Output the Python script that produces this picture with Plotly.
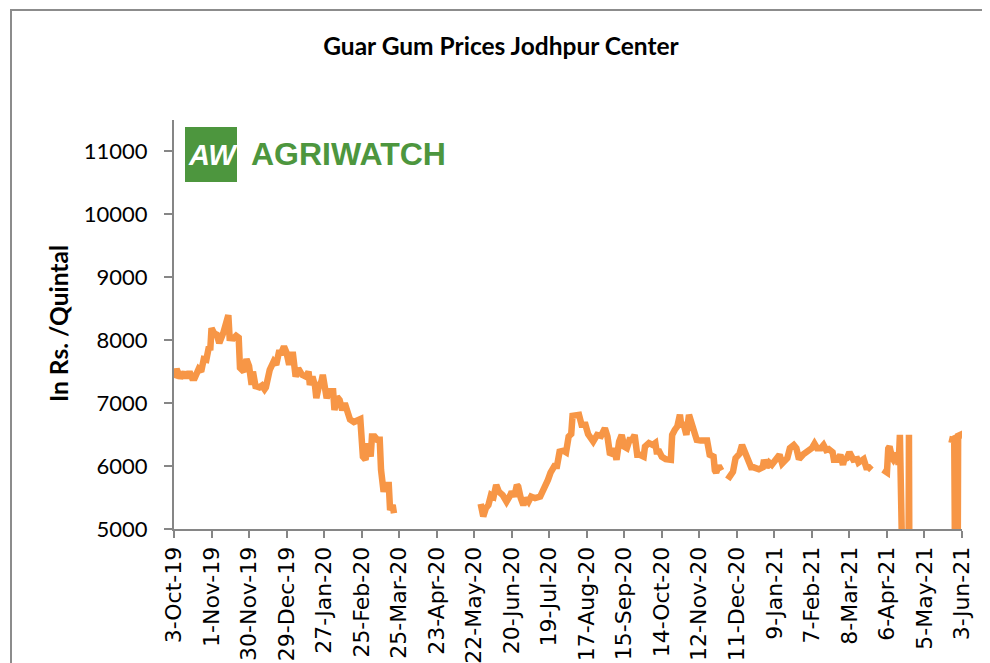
import plotly.graph_objects as go

# ---- data ----
dates = [
    "2019-10-03", "2019-10-05", "2019-10-08", "2019-10-11", "2019-10-13", "2019-10-15",
    "2019-10-17", "2019-10-19", "2019-10-22", "2019-10-24", "2019-10-26", "2019-10-28",
    "2019-10-30", "2019-10-31", "2019-11-01", "2019-11-03", "2019-11-05", "2019-11-07",
    "2019-11-10", "2019-11-12", "2019-11-14", "2019-11-15", "2019-11-18", "2019-11-20",
    "2019-11-22", "2019-11-23", "2019-11-26", "2019-11-28", "2019-11-30", "2019-12-02",
    "2019-12-03", "2019-12-05", "2019-12-08", "2019-12-10", "2019-12-12", "2019-12-13",
    "2019-12-15", "2019-12-16", "2019-12-19", "2019-12-21", "2019-12-23", "2019-12-25",
    "2019-12-27", "2019-12-29", "2019-12-31", "2020-01-01", "2020-01-03", "2020-01-05",
    "2020-01-07", "2020-01-10", "2020-01-13", "2020-01-15", "2020-01-16", "2020-01-18",
    "2020-01-20", "2020-01-21", "2020-01-23", "2020-01-25", "2020-01-26", "2020-01-28",
    "2020-01-29", "2020-01-31", "2020-02-03", "2020-02-04", "2020-02-06", "2020-02-08",
    "2020-02-10", "2020-02-12", "2020-02-14", "2020-02-16", "2020-02-19", "2020-02-24",
    "2020-02-26", "2020-02-28", "2020-03-01", "2020-03-03", "2020-03-04", "2020-03-06",
    "2020-03-08", "2020-03-10", "2020-03-11", "2020-03-13", "2020-03-14", "2020-03-17",
    "2020-03-18", "2020-03-20", "2020-03-21",
    "2020-04-20",
    "2020-05-27", "2020-05-29", "2020-05-31", "2020-06-02", "2020-06-04", "2020-06-06",
    "2020-06-08", "2020-06-10", "2020-06-13", "2020-06-16", "2020-06-19", "2020-06-20",
    "2020-06-22", "2020-06-24", "2020-06-25", "2020-06-27", "2020-06-29", "2020-07-01",
    "2020-07-03", "2020-07-05", "2020-07-08", "2020-07-12", "2020-07-14", "2020-07-15",
    "2020-07-18", "2020-07-20", "2020-07-23", "2020-07-25", "2020-07-27", "2020-07-30",
    "2020-08-01", "2020-08-03", "2020-08-05", "2020-08-06", "2020-08-08", "2020-08-11",
    "2020-08-13", "2020-08-16", "2020-08-18", "2020-08-20", "2020-08-22", "2020-08-25",
    "2020-08-28", "2020-08-31", "2020-09-02", "2020-09-04", "2020-09-06", "2020-09-07",
    "2020-09-09", "2020-09-11", "2020-09-13", "2020-09-15", "2020-09-17", "2020-09-19",
    "2020-09-21", "2020-09-23", "2020-09-25", "2020-09-27", "2020-09-30", "2020-10-01",
    "2020-10-04", "2020-10-07", "2020-10-09", "2020-10-10", "2020-10-12", "2020-10-14",
    "2020-10-17", "2020-10-21", "2020-10-22", "2020-10-24", "2020-10-26", "2020-10-28",
    "2020-10-29", "2020-10-31", "2020-11-02", "2020-11-04", "2020-11-06", "2020-11-08",
    "2020-11-10", "2020-11-13", "2020-11-18", "2020-11-20", "2020-11-23", "2020-11-24",
    "2020-11-25", "2020-11-27", "2020-11-29",
    "2020-12-01",
    "2020-12-04", "2020-12-06", "2020-12-08", "2020-12-10", "2020-12-13", "2020-12-15",
    "2020-12-18", "2020-12-20", "2020-12-22", "2020-12-24", "2020-12-28", "2020-12-31",
    "2021-01-01", "2021-01-03", "2021-01-05", "2021-01-07", "2021-01-10", "2021-01-13",
    "2021-01-15", "2021-01-18", "2021-01-19", "2021-01-21", "2021-01-24", "2021-01-26",
    "2021-01-28", "2021-01-31", "2021-02-02", "2021-02-05", "2021-02-07", "2021-02-09",
    "2021-02-11", "2021-02-14", "2021-02-16", "2021-02-18", "2021-02-20", "2021-02-23",
    "2021-02-24", "2021-02-27", "2021-03-01", "2021-03-03", "2021-03-04", "2021-03-06",
    "2021-03-08", "2021-03-11", "2021-03-14", "2021-03-15", "2021-03-19", "2021-03-21",
    "2021-03-23", "2021-03-25",
    "2021-03-30",
    "2021-04-03", "2021-04-06", "2021-04-07", "2021-04-08", "2021-04-10", "2021-04-11",
    "2021-04-14", "2021-04-15", "2021-04-16", "2021-04-17", "2021-04-22", "2021-04-23",
    "2021-04-24",
    "2021-05-10",
    "2021-05-24", "2021-05-26", "2021-05-28", "2021-05-29", "2021-05-30", "2021-05-31",
    "2021-06-02", "2021-06-03",
]

prices = [
    7400, 7540, 7400, 7490, 7400, 7500,
    7400, 7400, 7540, 7500, 7700, 7690,
    7900, 7840, 8190, 8110, 8090, 7955,
    8110, 8270, 8400, 8035, 8030, 8070,
    8040, 7560, 7500, 7700, 7590, 7290,
    7500, 7270, 7250, 7280, 7220, 7250,
    7500, 7530, 7660, 7610, 7800, 7800,
    7900, 7800, 7610, 7770, 7770, 7420,
    7550, 7450, 7420, 7500, 7290, 7420,
    7270, 7080, 7270, 7350, 7450, 7130,
    7080, 7190, 7190, 6890, 7100, 7050,
    6890, 7000, 6870, 6740, 6700, 6745,
    6150, 6100, 6360, 6150, 6470, 6470,
    6420, 6420, 5940, 5590, 5700, 5700,
    5300, 5380, 5250,
    None,
    5400, 5200, 5330, 5380, 5540, 5515,
    5700, 5595, 5540, 5435, 5540, 5595,
    5515, 5700, 5675, 5490, 5380, 5490,
    5435, 5515, 5490, 5515, 5595, 5620,
    5780, 5895, 6000, 6000, 6230, 6245,
    6220, 6470, 6510, 6800, 6815, 6815,
    6655, 6655, 6510, 6460, 6390, 6495,
    6480, 6600, 6470, 6180, 6215, 6285,
    6100, 6390, 6495, 6310, 6285, 6415,
    6415, 6495, 6180, 6180, 6150, 6310,
    6365, 6335, 6365, 6230, 6230, 6150,
    6110, 6100, 6495, 6575, 6630, 6815,
    6655, 6655, 6495, 6815, 6655, 6495,
    6415, 6405, 6405, 6180, 6150, 5930,
    5895, 6005, 5930,
    None,
    5790, 5860, 5910, 6125, 6195, 6335,
    6195, 6070, 5980, 5980, 5950, 5980,
    6100, 5980, 6055, 6020, 6100, 6180,
    6040, 6125, 6125, 6285, 6335, 6285,
    6110, 6180, 6205, 6270, 6285, 6355,
    6285, 6285, 6335, 6255, 6270, 6220,
    6100, 6100, 6180, 6020, 6110, 6125,
    6220, 6100, 6110, 6055, 6110, 5980,
    5980, 5940,
    None,
    5940, 5900, 6280, 6310, 6130, 6100,
    6200, 6020, 6496, 0, 0, 6496,
    0,
    None,
    6430, 6420, 6440, 0, 0, 6480,
    6500, 6440,
]

tick_dates = [
    "2019-10-03", "2019-11-01", "2019-11-30", "2019-12-29", "2020-01-27", "2020-02-25",
    "2020-03-25", "2020-04-23", "2020-05-22", "2020-06-20", "2020-07-19", "2020-08-17",
    "2020-09-15", "2020-10-14", "2020-11-12", "2020-12-11", "2021-01-09", "2021-02-07",
    "2021-03-08", "2021-04-06", "2021-05-05", "2021-06-03",
]
tick_labels = [
    "3-Oct-19", "1-Nov-19", "30-Nov-19", "29-Dec-19", "27-Jan-20", "25-Feb-20",
    "25-Mar-20", "23-Apr-20", "22-May-20", "20-Jun-20", "19-Jul-20", "17-Aug-20",
    "15-Sep-20", "14-Oct-20", "12-Nov-20", "11-Dec-20", "9-Jan-21", "7-Feb-21",
    "8-Mar-21", "6-Apr-21", "5-May-21", "3-Jun-21",
]

title_text = "Guar Gum Prices Jodhpur Center"
y_title = "In Rs. /Quintal"

LINE_COLOR = "#F79646"
AXIS_COLOR = "#868686"
GREEN = "#4D963E"

# The page body has an 8px margin, so the figure is laid out in coordinates
# shifted by OFF relative to the screenshot.
OFF = 8
W, H = 990 - OFF, 663 - OFF
# plot area in screenshot pixels: x 174..962, y 120..529
L, R, T, B = 174 - OFF, 962 - OFF, 120 - OFF, 529 - OFF


def px(xs):  # screenshot x -> paper
    return (xs - OFF - L) / (R - L)


def py(ys):  # screenshot y -> paper
    return (B - (ys - OFF)) / (B - T)


fig = go.Figure()
fig.add_trace(go.Scatter(
    x=dates, y=prices, mode="lines",
    line=dict(color=LINE_COLOR, width=6.5),
    connectgaps=False, showlegend=False, hoverinfo="x+y",
))

shapes = [
    # outer chart border
    dict(type="rect", xref="paper", yref="paper",
         x0=px(11), x1=px(1010), y0=py(690), y1=py(10),
         line=dict(color="#8C8C8C", width=2), fillcolor="rgba(0,0,0,0)", layer="below"),
    # logo square
    dict(type="rect", xref="paper", yref="paper",
         x0=px(185), x1=px(237), y0=py(182), y1=py(127),
         line=dict(width=0), fillcolor=GREEN),
]

annotations = [
    dict(text="<b><i>AW</i></b>", xref="paper", yref="paper", x=px(213), y=py(155),
         xanchor="center", yanchor="middle", showarrow=False,
         font=dict(family="Liberation Sans Narrow, Liberation Sans, Arial", size=29, color="white")),
    dict(text="<b>AGRIWATCH</b>", xref="paper", yref="paper", x=px(249), y=py(154),
         xanchor="left", yanchor="middle", showarrow=False,
         font=dict(family="Liberation Sans, Arial", size=32, color=GREEN)),
    dict(text="<b>" + y_title + "</b>", xref="paper", yref="paper", x=px(58), y=py(324),
         xanchor="center", yanchor="middle", showarrow=False, textangle=-90,
         font=dict(family="Lato, Calibri, sans-serif", size=24.5, color="black")),
]

fig.update_layout(
    width=W, height=H,
    margin=dict(l=L, r=W - R, t=T, b=H - B, autoexpand=False),
    paper_bgcolor="white", plot_bgcolor="white",
    title=dict(text="<b>" + title_text + "</b>", xref="container", yref="container",
               x=(501 - OFF) / W, y=1 - (46 - OFF) / H, xanchor="center", yanchor="middle",
               font=dict(family="Lato, Calibri, sans-serif", size=24.5, color="black")),
    xaxis=dict(
        type="date", range=["2019-10-03", "2021-06-03"],
        tickmode="array", tickvals=tick_dates, ticktext=tick_labels,
        tickangle=-90, ticks="outside", ticklen=7, tickwidth=2, tickcolor=AXIS_COLOR,
        showline=True, linecolor=AXIS_COLOR, linewidth=2,
        showgrid=False, zeroline=False, automargin=False,
        tickfont=dict(family="DejaVu Sans, Verdana, sans-serif", size=22, color="black"),
    ),
    yaxis=dict(
        range=[5000, 11500], tick0=5000, dtick=1000, tickformat="d",
        ticks="outside", ticklen=8, tickwidth=2, tickcolor=AXIS_COLOR,
        showline=True, linecolor=AXIS_COLOR, linewidth=2,
        showgrid=False, zeroline=False, automargin=False,
        ticklabelstandoff=12,
        tickfont=dict(family="Lato, Calibri, sans-serif", size=22, color="black"),
    ),
    shapes=shapes,
    annotations=annotations,
)

fig.write_html("out.html")
